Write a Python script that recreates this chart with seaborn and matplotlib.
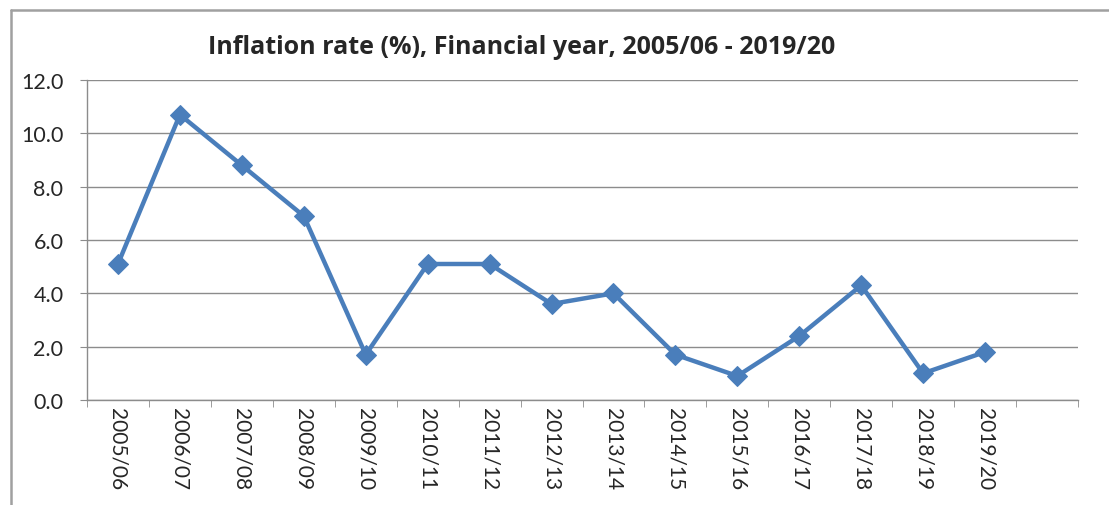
import numpy as np
import pandas as pd
import seaborn as sns
import matplotlib.pyplot as plt
from matplotlib.lines import Line2D

years = ['2005/06', '2006/07', '2007/08', '2008/09', '2009/10', '2010/11', '2011/12',
         '2012/13', '2013/14', '2014/15', '2015/16', '2016/17', '2017/18', '2018/19', '2019/20']
inflation = [5.1, 10.7, 8.8, 6.9, 1.7, 5.1, 5.1, 3.6, 4.0, 1.7, 0.9, 2.4, 4.3, 1.0, 1.8]

df = pd.DataFrame({'year': years, 'rate': inflation})

sns.set_style('white')
plt.rcParams['font.family'] = ['Lato', 'DejaVu Sans']

fig = plt.figure(figsize=(11.09, 5.06), dpi=100)
ax = fig.add_axes([87 / 1109, 1 - 401 / 506, 991 / 1109, 320 / 506])

sns.lineplot(data=df, x='year', y='rate', marker='D', color='#4A7EBB', linewidth=3.2,
             markersize=10, markeredgecolor='#4A7EBB', ax=ax, sort=False)

ax.set_xlim(-0.5, 15.5)
ax.set_ylim(0, 12)
ax.set_yticks(np.arange(0, 12.1, 2))
ax.set_yticklabels(['%.1f' % v for v in np.arange(0, 12.1, 2)], fontsize=15.5)
ax.yaxis.grid(True, color='#8c8c8c', linewidth=1)
ax.set_axisbelow(True)

ax.set_xticks(range(len(years)))
ax.set_xticklabels(years, rotation=-90, fontsize=15, va='top')
ax.set_xticks(np.arange(-0.5, 16, 1), minor=True)
ax.tick_params(axis='x', which='major', length=0, pad=5)
ax.tick_params(axis='x', which='minor', length=5, color='#8c8c8c', direction='out', bottom=True)
ax.tick_params(axis='y', length=5, color='#8c8c8c', direction='out', left=True, pad=12)

for s in ['top', 'right']:
    ax.spines[s].set_visible(False)
for s in ['left', 'bottom']:
    ax.spines[s].set_color('#8c8c8c')
    ax.spines[s].set_linewidth(1)

ax.set_xlabel('')
ax.set_ylabel('')

fig.text(522 / 1109, 1 - 47 / 506, 'Inflation rate (%), Financial year, 2005/06 - 2019/20',
         ha='center', va='center', fontsize=18, fontweight='bold',
         family=['Open Sans', 'DejaVu Sans'])

# outer chart frame (left and top edges only, the rest is cropped)
fx, fy = 10.5 / 1109, 1 - 11 / 506
fig.add_artist(Line2D([fx, fx], [0, fy], transform=fig.transFigure, color='#a0a0a0', linewidth=1.8))
fig.add_artist(Line2D([fx, 1], [fy, fy], transform=fig.transFigure, color='#a0a0a0', linewidth=1.8))

fig.savefig('out.png', dpi=100)
